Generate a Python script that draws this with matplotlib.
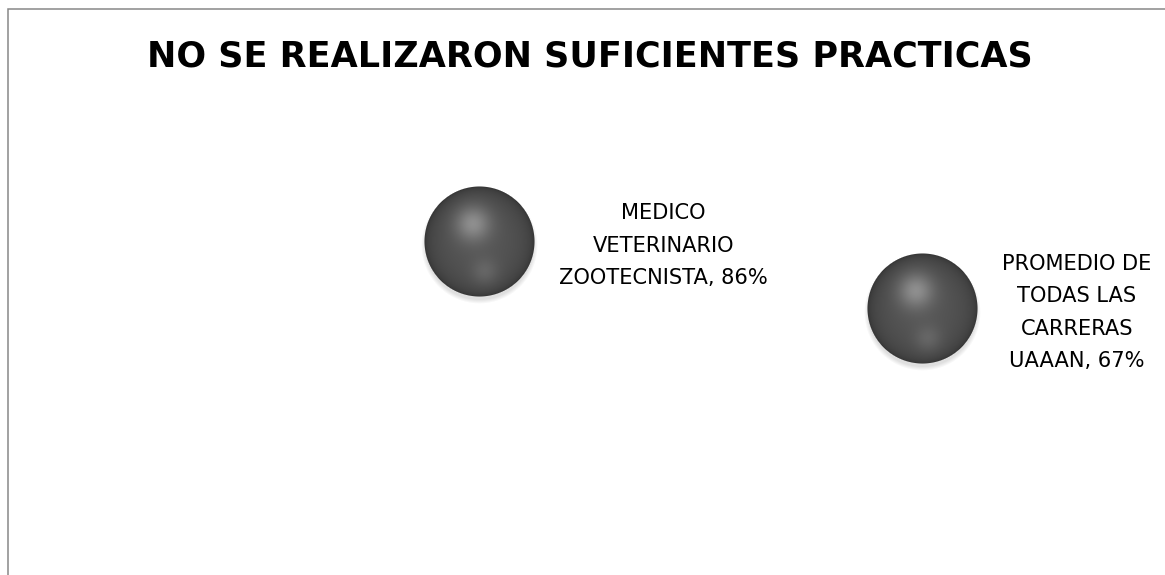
import numpy as np
import matplotlib.pyplot as plt
from matplotlib.offsetbox import OffsetImage, AnnotationBbox
from matplotlib.patches import Rectangle

titulo = 'NO SE REALIZARON SUFICIENTES PRACTICAS'
carreras = ['MEDICO\nVETERINARIO\nZOOTECNISTA', 'PROMEDIO DE\nTODAS LAS\nCARRERAS\nUAAAN']
posicion = [1, 2]
porcentaje = [0.86, 0.67]


def sphere_img(n=140, r=55.0):
    # grey shaded ball with a soft shadow under it
    yy, xx = np.mgrid[0:n, 0:n].astype(float)
    cx, cy = n / 2, n / 2
    dx = (xx - cx) / r
    dy = (yy - cy) / r
    d = np.sqrt(dx**2 + dy**2)
    z = np.sqrt(np.clip(1 - d**2, 0, 1))
    spot = np.exp(-((dx + 0.12)**2 + (dy + 0.33)**2) / 0.10)
    low = np.exp(-((dx - 0.10)**2 + (dy - 0.55)**2) / 0.06)
    v = 40 + 46 * z**0.6 + 58 * spot + 20 * low
    v = np.clip(v, 0, 255) / 255.0
    a_ball = np.clip(r - d * r + 0.5, 0, 1)

    sd = np.sqrt(((xx - cx) / r)**2 + ((yy - cy - 4) / r)**2)
    a_sh = np.clip((1.06 - sd) / 0.08, 0, 1) * 0.25
    sh_col = 0.5

    a = a_ball + a_sh * (1 - a_ball)
    col = (v * a_ball + sh_col * a_sh * (1 - a_ball)) / np.maximum(a, 1e-6)
    img = np.zeros((n, n, 4))
    img[..., 0] = col
    img[..., 1] = col
    img[..., 2] = col
    img[..., 3] = a
    return img


fig = plt.figure(figsize=(11.65, 5.75), dpi=100)
ax = fig.add_axes([0, 0, 1, 1])
ax.set_xlim(-0.0813, 2.5485)
ax.set_ylim(-0.0872, 1.5435)
ax.axis('off')

ball = sphere_img()
for x, y, name in zip(posicion, porcentaje, carreras):
    ab = AnnotationBbox(OffsetImage(ball, zoom=1, dpi_cor=False), (x, y),
                        frameon=False, pad=0)
    ax.add_artist(ab)
    lab = '%s, %d%%' % (name, round(y * 100))
    ax.annotate(lab, (x, y), xytext=(80, -4.5), textcoords='offset pixels',
                ha='left', va='center', multialignment='center',
                fontsize=15.1, family='DejaVu Sans', linespacing=1.78,
                color='black')

fig.text(590 / 1165, 1 - 67 / 575, titulo, ha='center', va='baseline',
         fontsize=25.2, fontweight='bold', family='DejaVu Sans', color='black')

fig.add_artist(Rectangle((7.5 / 1165, -0.1), 1.2, 1 - 8.5 / 575 + 0.1,
                         transform=fig.transFigure, fill=False,
                         edgecolor='#878787', linewidth=1.1))

fig.savefig('out.png', dpi=100, facecolor='white')
